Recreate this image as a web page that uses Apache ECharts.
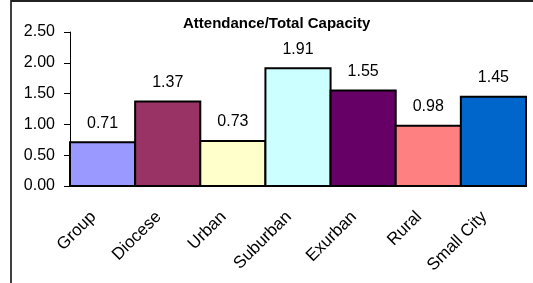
<!DOCTYPE html>
<html>
<head>
<meta charset="utf-8">
<script src="https://cdn.jsdelivr.net/npm/echarts@6/dist/echarts.min.js"></script>
<style>
  html, body { margin: 0; padding: 0; background: #fff; }
  #chart { width: 533px; height: 283px; }
</style>
</head>
<body>
<div id="chart"></div>
<script>
// data
var categories = ['Group', 'Diocese', 'Urban', 'Suburban', 'Exurban', 'Rural', 'Small City']
var values = [0.71, 1.37, 0.73, 1.91, 1.55, 0.98, 1.45]
var yTicks = { min: 0, max: 2.5, interval: 0.5 }

// one fill per bar, old Excel palette
var colors = ['#9999FF', '#993366', '#FFFFCC', '#CCFFFF', '#660066', '#FF8080', '#0066CC']

var font = 'Liberation Sans, Arial, sans-serif'

// bars touching each other: custom series so each bar fills its whole band
function renderBar (params, api) {
  var idx = api.value(0)
  var val = api.value(1)
  var top = api.coord([idx, val])
  var base = api.coord([idx, 0])
  var band = api.coord([1, 0])[0] - api.coord([0, 0])[0]
  return {
    type: 'group',
    children: [
      {
        type: 'rect',
        shape: { x: top[0] - band / 2, y: top[1], width: band, height: base[1] - top[1] },
        style: { fill: colors[idx], stroke: '#000', lineWidth: 2 }
      },
      {
        type: 'text',
        x: top[0],
        y: top[1] - 11,
        style: {
          text: val.toFixed(2),
          fill: '#000',
          font: '16px ' + font,
          align: 'center',
          verticalAlign: 'bottom'
        }
      }
    ]
  }
}

var option = {
  animation: false,
  backgroundColor: '#fff',
  title: {
    text: 'Attendance/Total Capacity',
    left: 183,
    top: 16,
    padding: 0,
    textStyle: { fontFamily: font, fontSize: 15, fontWeight: 'bold', color: '#000' }
  },
  grid: { left: 70, right: 7, top: 32, bottom: 97 },
  // chart area frame: only left and top edges are visible
  graphic: [
    { type: 'line', shape: { x1: 11, y1: 0, x2: 11, y2: 283 }, style: { stroke: '#000', lineWidth: 1.5 } },
    { type: 'line', shape: { x1: 11, y1: 1, x2: 533, y2: 1 }, style: { stroke: '#222', lineWidth: 2 } }
  ],
  xAxis: {
    type: 'category',
    data: categories,
    axisLine: { lineStyle: { color: '#000', width: 1 } },
    axisTick: { length: 5, lineStyle: { color: '#000' } },
    axisLabel: {
      interval: 0,
      rotate: 45,
      margin: 19,
      padding: [0, 13, 0, 0],
      color: '#000',
      fontFamily: font,
      fontSize: 17
    }
  },
  yAxis: {
    type: 'value',
    min: yTicks.min,
    max: yTicks.max,
    interval: yTicks.interval,
    splitLine: { show: false },
    axisLine: { show: true, lineStyle: { color: '#000', width: 1 } },
    axisTick: { show: true, length: 6, lineStyle: { color: '#000' } },
    axisLabel: {
      margin: 15,
      color: '#000',
      fontFamily: font,
      fontSize: 16,
      formatter: function (v) { return v.toFixed(2) }
    }
  },
  series: [
    {
      type: 'custom',
      renderItem: renderBar,
      clip: false,
      encode: { x: 0, y: 1 },
      data: values.map(function (v, i) { return [i, v] })
    }
  ]
}

var chart = echarts.init(document.getElementById('chart'))
chart.setOption(option)
</script>
</body>
</html>
